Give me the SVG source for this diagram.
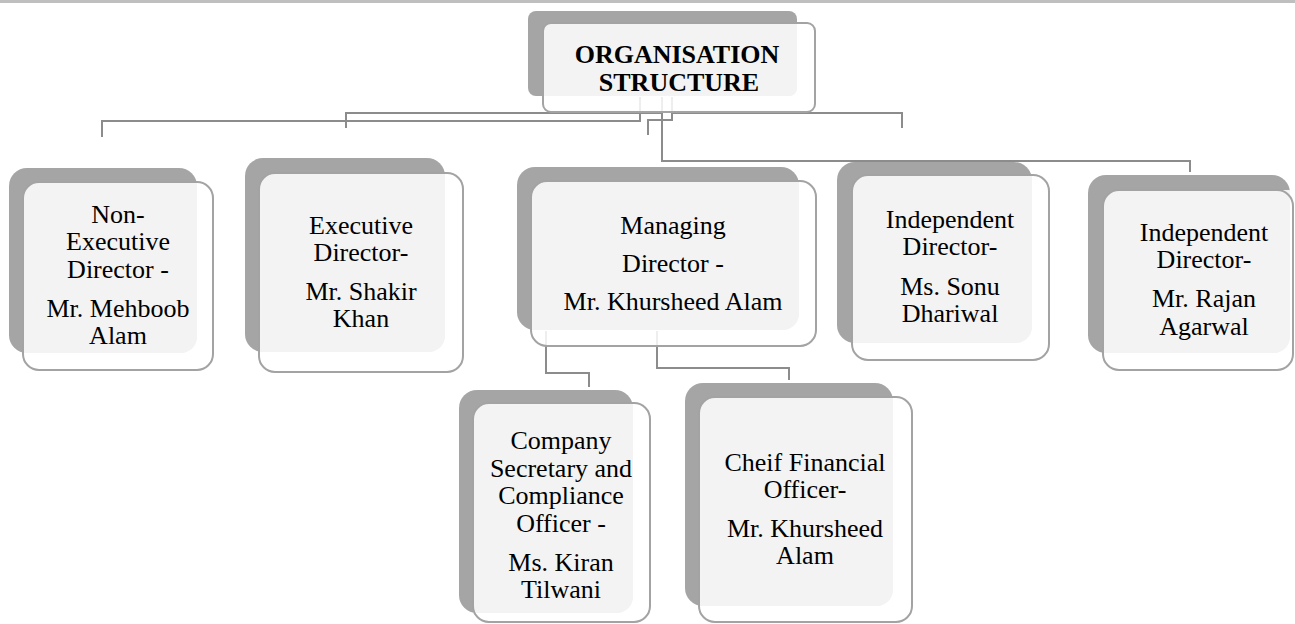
<svg xmlns="http://www.w3.org/2000/svg" width="1295" height="624" viewBox="0 0 1295 624">
<style>
.sh{fill:#a5a5a5}
.fw{fill:#ffffff;fill-opacity:0.85}
.lt{fill:#f3f3f3}
.fs{fill:none;stroke:#a3a3a3;stroke-width:2}
.c{fill:none;stroke:#8c8c8c;stroke-width:2}
text{font-family:'Liberation Serif','Times New Roman',serif;font-size:26px;fill:#000;text-anchor:middle}
.tb{font-weight:bold}
</style>
<rect x="0" y="0" width="1295" height="3" fill="#bfbfbf"/>
<g id="connectors">
<path class="c" d="M640,97 V121 H102 V137"/>
<path class="c" d="M662,97 V113 H346 V128"/>
<path class="c" d="M672,97 V113 H902 V128"/>
<path class="c" d="M672,97 V120 H648 V135"/>
<path class="c" d="M662,97 V161 H1190 V172"/>
<path class="c" d="M546,331 V373 H589 V387"/>
<path class="c" d="M657,331 V368 H789 V380"/>
</g>
<g id="title">
<rect class="sh" x="528" y="11" width="269" height="85" rx="8"/>
<rect class="fw" x="543" y="23" width="272" height="89" rx="8"/>
<path class="lt" d="M551,23 H797 V88 A8,8 0 0 1 789,96 H543 V31 A8,8 0 0 1 551,23 Z"/>
<rect class="fs" x="543" y="23" width="272" height="89" rx="8"/>
<text class="tb" x="677" y="63">ORGANISATION</text>
<text class="tb" x="679" y="91">STRUCTURE</text>
</g>
<g id="node-nonexec">
<rect class="sh" x="9" y="168" width="188" height="185" rx="18"/>
<rect class="fw" x="23" y="182" width="190" height="188" rx="16"/>
<path class="lt" d="M39,182 H197 V337 A16,16 0 0 1 181,353 H23 V198 A16,16 0 0 1 39,182 Z"/>
<rect class="fs" x="23" y="182" width="190" height="188" rx="16"/>
<text x="118" y="223">Non-</text>
<text x="118" y="250">Executive</text>
<text x="118" y="278">Director -</text>
<text x="118" y="317">Mr. Mehboob</text>
<text x="118" y="344">Alam</text>
</g>
<g id="node-exec">
<rect class="sh" x="245" y="158" width="200" height="194" rx="18"/>
<rect class="fw" x="259" y="173" width="204" height="199" rx="16"/>
<path class="lt" d="M275,173 H445 V336 A16,16 0 0 1 429,352 H259 V189 A16,16 0 0 1 275,173 Z"/>
<rect class="fs" x="259" y="173" width="204" height="199" rx="16"/>
<text x="361" y="234">Executive</text>
<text x="361" y="261">Director-</text>
<text x="361" y="300">Mr. Shakir</text>
<text x="361" y="327">Khan</text>
</g>
<g id="node-md">
<rect class="sh" x="517" y="167" width="282" height="163" rx="18"/>
<rect class="fw" x="531" y="181" width="285" height="165" rx="16"/>
<path class="lt" d="M547,181 H799 V314 A16,16 0 0 1 783,330 H531 V197 A16,16 0 0 1 547,181 Z"/>
<rect class="fs" x="531" y="181" width="285" height="165" rx="16"/>
<text x="673" y="234">Managing</text>
<text x="673" y="272">Director -</text>
<text x="673" y="310">Mr. Khursheed Alam</text>
</g>
<g id="node-sonu">
<rect class="sh" x="837" y="162" width="195" height="181" rx="18"/>
<rect class="fw" x="852" y="175" width="197" height="185" rx="16"/>
<path class="lt" d="M868,175 H1032 V327 A16,16 0 0 1 1016,343 H852 V191 A16,16 0 0 1 868,175 Z"/>
<rect class="fs" x="852" y="175" width="197" height="185" rx="16"/>
<text x="950" y="228">Independent</text>
<text x="950" y="255">Director-</text>
<text x="950" y="295">Ms. Sonu</text>
<text x="950" y="322">Dhariwal</text>
</g>
<g id="node-rajan">
<rect class="sh" x="1088" y="175" width="202" height="178" rx="18"/>
<rect class="fw" x="1103" y="190" width="190" height="180" rx="16"/>
<path class="lt" d="M1119,190 H1290 V337 A16,16 0 0 1 1274,353 H1103 V206 A16,16 0 0 1 1119,190 Z"/>
<rect class="fs" x="1103" y="190" width="190" height="180" rx="16"/>
<text x="1204" y="241">Independent</text>
<text x="1204" y="268">Director-</text>
<text x="1204" y="307">Mr. Rajan</text>
<text x="1204" y="335">Agarwal</text>
</g>
<g id="node-cs">
<rect class="sh" x="459" y="390" width="174" height="223" rx="18"/>
<rect class="fw" x="473" y="403" width="177" height="219" rx="16"/>
<path class="lt" d="M489,403 H633 V597 A16,16 0 0 1 617,613 H473 V419 A16,16 0 0 1 489,403 Z"/>
<rect class="fs" x="473" y="403" width="177" height="219" rx="16"/>
<text x="561" y="449">Company</text>
<text x="561" y="477">Secretary and</text>
<text x="561" y="504">Compliance</text>
<text x="561" y="532">Officer -</text>
<text x="561" y="571">Ms. Kiran</text>
<text x="561" y="598">Tilwani</text>
</g>
<g id="node-cfo">
<rect class="sh" x="685" y="383" width="208" height="223" rx="18"/>
<rect class="fw" x="699" y="397" width="213" height="225" rx="16"/>
<path class="lt" d="M715,397 H893 V590 A16,16 0 0 1 877,606 H699 V413 A16,16 0 0 1 715,397 Z"/>
<rect class="fs" x="699" y="397" width="213" height="225" rx="16"/>
<text x="805" y="471">Cheif Financial</text>
<text x="805" y="498">Officer-</text>
<text x="805" y="537">Mr. Khursheed</text>
<text x="805" y="564">Alam</text>
</g>
</svg>
